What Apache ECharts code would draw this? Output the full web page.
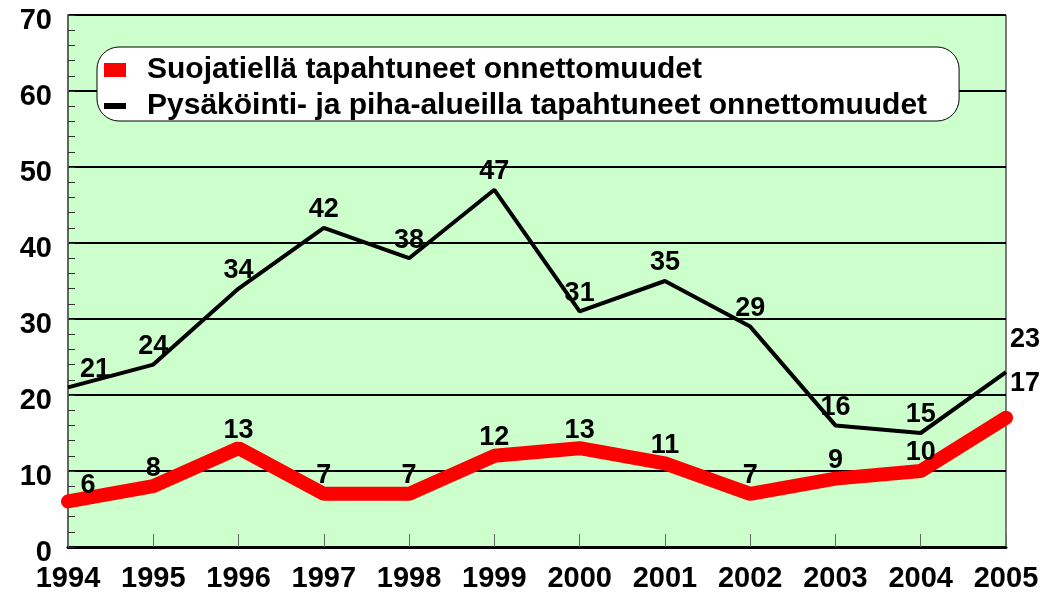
<!DOCTYPE html>
<html>
<head>
<meta charset="utf-8">
<script src="https://cdn.jsdelivr.net/npm/echarts@6/dist/echarts.min.js"></script>
<style>
  html, body { margin: 0; padding: 0; background: #fff; }
  #chart { width: 1048px; height: 593px; }
</style>
</head>
<body>
<div id="chart"></div>
<script>
// vuodet ja arvot
const years = ['1994', '1995', '1996', '1997', '1998', '1999', '2000', '2001', '2002', '2003', '2004', '2005'];
const suojatie = [6, 8, 13, 7, 7, 12, 13, 11, 7, 9, 10, 17];
const pihaAlue = [21, 24, 34, 42, 38, 47, 31, 35, 29, 16, 15, 23];
const nameRed = 'Suojatiellä tapahtuneet onnettomuudet';
const nameBlack = 'Pysäköinti- ja piha-alueilla tapahtuneet onnettomuudet';

const FONT = '"Liberation Sans", Arial, sans-serif';

// reunimmaisten pisteiden tekstit siirretään sivuun
function withOffsets(values, firstOff, lastOff) {
  return values.map((v, i) => {
    if (i === 0) return { value: v, label: { offset: firstOff } };
    if (i === values.length - 1) return { value: v, label: { offset: lastOff } };
    return v;
  });
}

const labelStyle = {
  show: true,
  position: 'top',
  distance: 4,
  color: '#000',
  fontSize: 27,
  fontWeight: 'bold',
  fontFamily: FONT
};

const option = {
  animation: false,
  backgroundColor: '#fff',
  grid: {
    left: 68, right: 42, top: 15, bottom: 46,
    show: true,
    backgroundColor: '#ccffcc',
    borderColor: '#000',
    borderWidth: 1
  },
  legend: {
    orient: 'vertical',
    left: 97,
    top: 47,
    backgroundColor: '#fff',
    borderColor: '#000',
    borderWidth: 1,
    borderRadius: 22,
    padding: [8, 32, 0, 7],
    itemWidth: 22,
    itemHeight: 14,
    itemGap: 6,
    textStyle: {
      color: '#000',
      fontSize: 30,
      fontWeight: 'bold',
      fontFamily: FONT,
      lineHeight: 28,
      padding: [0, 0, 0, 16]
    },
    data: [
      { name: nameRed, icon: 'rect', itemStyle: { color: '#ff0000', borderWidth: 0 } },
      { name: nameBlack, icon: 'path://M0,0 M0,4 L22,4 L22,10 L0,10 Z M22,14', itemStyle: { color: '#000', borderWidth: 0 } }
    ]
  },
  xAxis: {
    type: 'category',
    data: years,
    boundaryGap: false,
    axisLine: { lineStyle: { color: '#000', width: 3 } },
    axisTick: { show: true, inside: true, length: 13, lineStyle: { color: '#666', width: 1 } },
    axisLabel: {
      color: '#000', fontSize: 29, fontWeight: 'bold', fontFamily: FONT, margin: 17
    },
    splitLine: { show: false }
  },
  yAxis: {
    type: 'value',
    min: 0,
    max: 70,
    interval: 10,
    axisLine: { show: true, lineStyle: { color: '#5a6a5a', width: 2 } },
    axisTick: { show: true, inside: true, length: 7, lineStyle: { color: '#333' } },
    minorTick: { show: true, splitNumber: 5, length: 7, lineStyle: { color: '#333', width: 1 } },
    axisLabel: {
      margin: 16,
      formatter: '{v|{value}}',
      rich: {
        v: {
          color: '#000', fontSize: 29, fontWeight: 'bold', fontFamily: FONT,
          padding: [12, 0, 0, 0]
        }
      }
    },
    splitLine: { show: true, lineStyle: { color: '#000', width: 2 } }
  },
  series: [
    {
      name: nameRed,
      type: 'line',
      data: withOffsets(suojatie, [20, 2], [19, -16]),
      symbol: 'circle',
      symbolSize: 1,
      lineStyle: { color: '#ff0000', width: 14, cap: 'round' },
      itemStyle: { color: 'rgba(0,0,0,0)' },
      label: labelStyle,
      z: 2
    },
    {
      name: nameBlack,
      type: 'line',
      data: withOffsets(pihaAlue, [27, 0], [19, -15]),
      symbol: 'circle',
      symbolSize: 1,
      lineStyle: { color: '#000', width: 4 },
      itemStyle: { color: 'rgba(0,0,0,0)' },
      label: labelStyle,
      z: 3
    }
  ]
};

const myChart = echarts.init(document.getElementById('chart'));
myChart.setOption(option);
</script>
</body>
</html>
